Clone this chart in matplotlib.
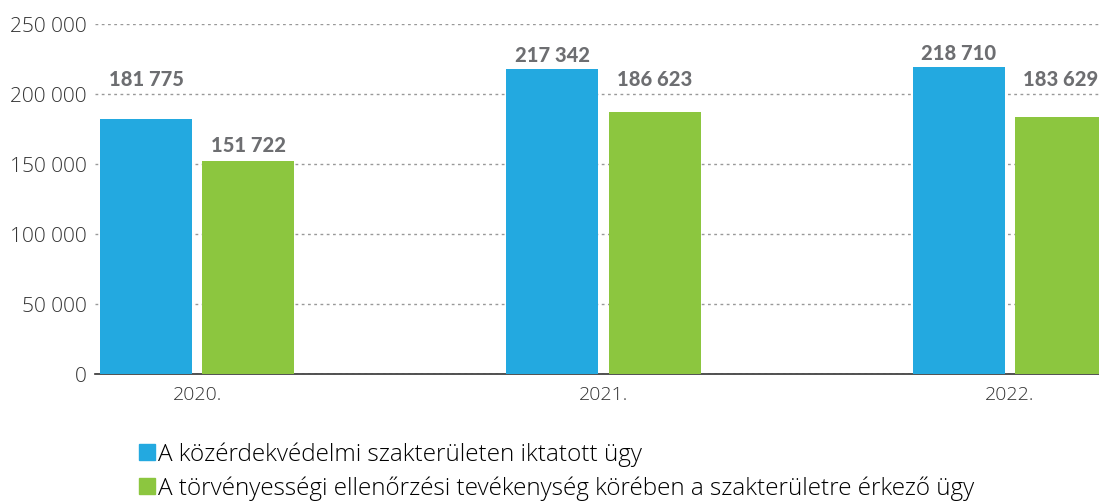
import matplotlib
matplotlib.use("Agg")
import matplotlib.pyplot as plt
from matplotlib.patches import Patch
import numpy as np

years = ["2020.", "2021.", "2022."]
series_names = ["A közérdekvédelmi szakterületen iktatott ügy",
                "A törvényességi ellenőrzési tevékenység körében a szakterületre érkező ügy"]
blue_vals = [181775, 217342, 218710]
green_vals = [151722, 186623, 183629]
colors = ["#23a9e0", "#8cc63f"]
# label offsets above the bar top (pixels) as seen in the reference
blue_label_off = [41, 15, 15]
green_label_off = [17, 34, 38]
yticks = [0, 50000, 100000, 150000, 200000, 250000]

light = "Open Sans"
bold = "Lato"
fig = plt.figure(figsize=(10.99, 5.02), dpi=100)
ax = fig.add_axes([95/1099, 1-375/502, 1-95/1099, (375-24.5)/502])

x = np.arange(len(years))
w = 0.2263
off = 0.1255
b1 = ax.bar(x - off, blue_vals, w, color=colors[0], zorder=3)
b2 = ax.bar(x + off, green_vals, w, color=colors[1], zorder=3)

def fmt(v):
    return f"{v:,}".replace(",", " ")

for bars, vals, offs in ((b1, blue_vals, blue_label_off), (b2, green_vals, green_label_off)):
    for r, v, o in zip(bars, vals, offs):
        ax.annotate(fmt(v), (r.get_x() + r.get_width()/2, v), xytext=(0, o*0.72),
                    textcoords="offset points", ha="center", va="center",
                    fontsize=14.5, fontweight="black", family=bold, color="#6d6e71",
                    annotation_clip=False)

ax.set_xlim(-0.251, 2.219)
ax.set_ylim(0, 250000)
ax.set_yticks(yticks)
ax.set_yticklabels([fmt(t) for t in yticks], family=light, fontweight=300, fontsize=15, color="#333333")
ax.set_xticks(x)
ax.set_xticklabels(years, family=light, fontweight=300, fontsize=14, color="#333333")
ax.tick_params(axis="y", length=0, pad=6)
ax.tick_params(axis="x", length=0, pad=8)
for s in ("top", "right", "left"):
    ax.spines[s].set_visible(False)
ax.spines["bottom"].set_color("#333333")
ax.spines["bottom"].set_linewidth(1.2)
ax.yaxis.grid(True, linestyle=(0, (2, 2.5)), color="#999999", linewidth=1, zorder=0)
ax.set_axisbelow(True)

handles = [Patch(color=c) for c in colors]
fig.legend(handles, series_names, loc="upper left", bbox_to_anchor=(139/1099, 1-443/502),
           frameon=False, prop={"family": light, "weight": 300, "size": 17.5},
           handlelength=0.65, handleheight=0.65, handletextpad=0.15, labelspacing=0.38,
           borderpad=0, borderaxespad=0)

fig.savefig("out.png", dpi=100)
